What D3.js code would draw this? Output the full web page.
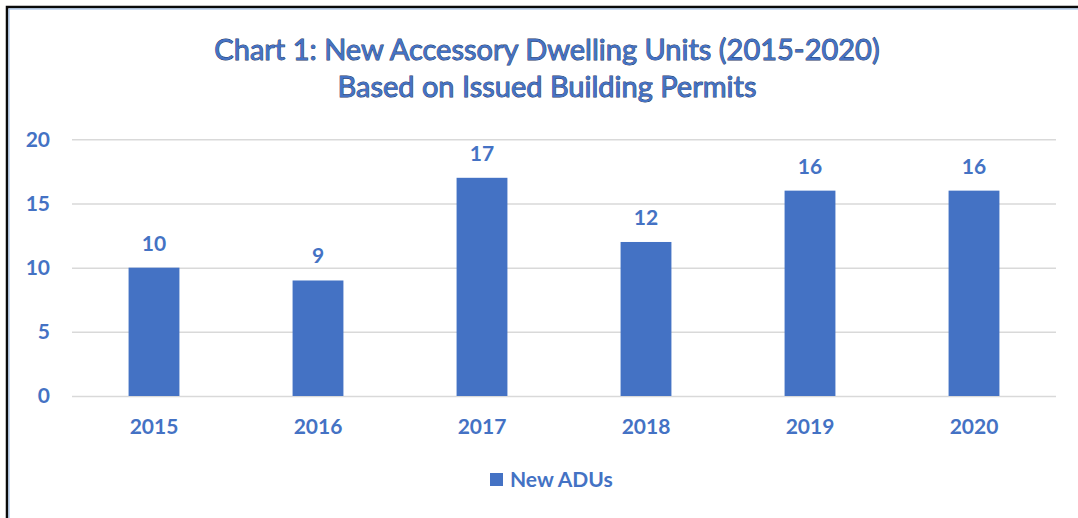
<!DOCTYPE html>
<html>
<head>
<meta charset="utf-8">
<script src="https://cdn.jsdelivr.net/npm/d3@7"></script>
<style>
  body { margin: 0; background: #fff; }
  svg { display: block; }
  .grid line { stroke: #d9d9d9; stroke-width: 1.5; }
  .grid path { display: none; }
  .tick text, .label, .legend text { font-family: Lato, "Open Sans", sans-serif; font-weight: bold; fill: #4472c4; }
</style>
</head>
<body>
<div id="chart"></div>
<script>
// chart data
var years = ['2015', '2016', '2017', '2018', '2019', '2020'];
var newAdus = [10, 9, 17, 12, 16, 16];
var yTicks = [0, 5, 10, 15, 20];
var titleLines = ['Chart 1: New Accessory Dwelling Units (2015-2020)', 'Based on Issued Building Permits'];
var seriesName = 'New ADUs';

var width = 1078, height = 518;
var plot = { left: 72, right: 1056, top: 139.3, bottom: 396 };
var blue = '#4472c4';

var svg = d3.select('#chart').append('svg')
	.attr('width', width)
	.attr('height', height);

// frame edges (top and left visible)
svg.append('path')
	.attr('d', 'M7,' + height + 'V7H' + width)
	.attr('fill', 'none')
	.attr('stroke', '#0a0a0a')
	.attr('stroke-width', 2.5);
svg.append('path')
	.attr('d', 'M9,' + height + 'V9H' + width)
	.attr('fill', 'none')
	.attr('stroke', '#8fb4e3')
	.attr('stroke-width', 1);

// title
svg.append('g').selectAll('text')
	.data(titleLines)
	.enter().append('text')
	.attr('x', 547)
	.attr('y', function (d, i) { return 60 + i * 37; })
	.attr('text-anchor', 'middle')
	.attr('font-family', 'Lato, "Open Sans", sans-serif')
	.attr('font-size', 29)
	.attr('fill', blue)
	.attr('stroke', '#1f3864')
	.attr('stroke-width', 0.9)
	.attr('paint-order', 'stroke')
	.text(function (d) { return d; });

// scales
var x = d3.scaleBand()
	.domain(years)
	.range([plot.left, plot.right])
	.paddingInner(0.69)
	.paddingOuter(0.345);

var y = d3.scaleLinear()
	.domain([0, 20])
	.range([plot.bottom, plot.top]);

// horizontal grid lines
svg.append('g')
	.attr('class', 'grid')
	.attr('transform', 'translate(' + plot.left + ',0)')
	.call(d3.axisLeft(y).tickValues(yTicks).tickSize(-(plot.right - plot.left)).tickFormat(''));

// y axis labels
var yAxis = svg.append('g')
	.attr('transform', 'translate(' + 58 + ',0)')
	.call(d3.axisLeft(y).tickValues(yTicks).tickSize(0).tickPadding(8));
yAxis.select('.domain').remove();
yAxis.selectAll('text').attr('font-size', 21);

// bars
svg.append('g').selectAll('rect')
	.data(newAdus)
	.enter().append('rect')
	.attr('x', function (d, i) { return x(years[i]); })
	.attr('y', function (d) { return y(d); })
	.attr('width', x.bandwidth())
	.attr('height', function (d) { return y(0) - y(d); })
	.attr('fill', blue);

// value labels
svg.append('g').selectAll('text')
	.data(newAdus)
	.enter().append('text')
	.attr('class', 'label')
	.attr('x', function (d, i) { return x(years[i]) + x.bandwidth() / 2; })
	.attr('y', function (d) { return y(d) - 17; })
	.attr('text-anchor', 'middle')
	.attr('font-size', 21)
	.text(function (d) { return d; });

// x axis labels
var xAxis = svg.append('g')
	.attr('transform', 'translate(0,' + plot.bottom + ')')
	.call(d3.axisBottom(x).tickSize(0).tickPadding(23));
xAxis.select('.domain').remove();
xAxis.selectAll('text').attr('font-size', 21);

// legend
var legend = svg.append('g').attr('class', 'legend');
legend.append('rect')
	.attr('x', 490).attr('y', 473)
	.attr('width', 13).attr('height', 13)
	.attr('fill', blue);
legend.append('text')
	.attr('x', 510).attr('y', 487)
	.attr('font-size', 21)
	.text(seriesName);
</script>
</body>
</html>
